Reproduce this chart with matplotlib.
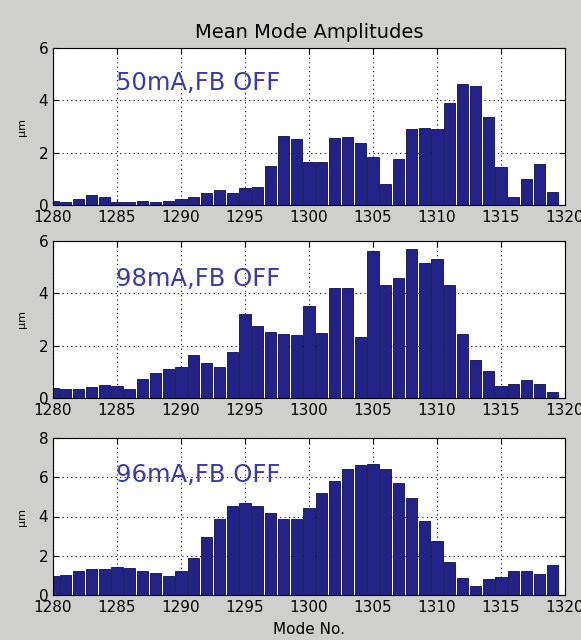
import numpy as np
import matplotlib.pyplot as plt

# mode numbers and mean amplitudes (um)
modes = np.arange(1280, 1320)

amp_50mA = [0.16, 0.10, 0.22, 0.37, 0.32, 0.11, 0.10, 0.16, 0.11, 0.16,
            0.22, 0.32, 0.46, 0.56, 0.47, 0.66, 0.70, 1.50, 2.65, 2.52,
            1.65, 1.65, 2.56, 2.60, 2.37, 1.85, 0.80, 1.75, 2.89, 2.94,
            2.89, 3.90, 4.62, 4.56, 3.37, 1.46, 0.32, 0.99, 1.56, 0.51]

amp_98mA = [0.38, 0.33, 0.33, 0.43, 0.48, 0.44, 0.33, 0.72, 0.95, 1.09,
            1.19, 1.63, 1.33, 1.19, 1.77, 3.20, 2.77, 2.54, 2.44, 2.40,
            3.50, 2.48, 4.22, 4.19, 2.35, 5.60, 4.32, 4.59, 5.69, 5.16,
            5.30, 4.32, 2.44, 1.44, 1.04, 0.46, 0.53, 0.67, 0.55, 0.23]

amp_96mA = [0.97, 1.03, 1.20, 1.32, 1.32, 1.44, 1.39, 1.20, 1.12, 0.98,
            1.24, 1.88, 2.97, 3.86, 4.52, 4.71, 4.52, 4.18, 3.85, 3.87,
            4.45, 5.22, 5.80, 6.44, 6.64, 6.69, 6.44, 5.73, 4.92, 3.76,
            2.75, 1.69, 0.88, 0.47, 0.80, 0.93, 1.24, 1.24, 1.07, 1.51]

labels = ["50mA,FB OFF", "98mA,FB OFF", "96mA,FB OFF"]
series = [amp_50mA, amp_98mA, amp_96mA]
ymax = [6, 6, 8]
label_y = [4.65, 4.55, 6.1]

bar_color = "#22228a"
text_color = "#3a3aae"

fig = plt.figure(figsize=(5.81, 6.40), dpi=100, facecolor="#cfcfcd")

# axes boxes in pixels (left, top, right, bottom)
boxes = [(53, 48, 565, 205), (53, 241, 565, 398), (53, 438, 565, 595)]
W, H = 581, 640

for i in range(3):
    l, t, r, b = boxes[i]
    ax = fig.add_axes([l / W, 1 - b / H, (r - l) / W, (b - t) / H])
    ax.set_facecolor("white")
    ax.bar(modes, series[i], width=0.86, color=bar_color,
           edgecolor="#10104a", linewidth=0.6, zorder=2)
    ax.set_xlim(1280, 1320)
    ax.set_ylim(0, ymax[i])
    ax.set_xticks(np.arange(1280, 1321, 5))
    ax.set_yticks(np.arange(0, ymax[i] + 1, 2))
    ax.grid(True, color="black", linestyle=(0, (1, 3)), linewidth=0.8, zorder=1)
    ax.tick_params(direction="in", top=True, right=True, labelsize=11, length=4)
    ax.set_ylabel("µm", fontsize=8, labelpad=8)
    for s in ax.spines.values():
        s.set_linewidth(0.8)
    ax.text(1284.9, label_y[i], labels[i], color=text_color, fontsize=17.5,
            va="center", ha="left", zorder=3)
    if i == 0:
        ax.set_title("Mean Mode Amplitudes", fontsize=14, pad=7)
    if i == 2:
        ax.set_xlabel("Mode No.", fontsize=11, labelpad=5)

fig.savefig("out.png", dpi=100, facecolor=fig.get_facecolor())
